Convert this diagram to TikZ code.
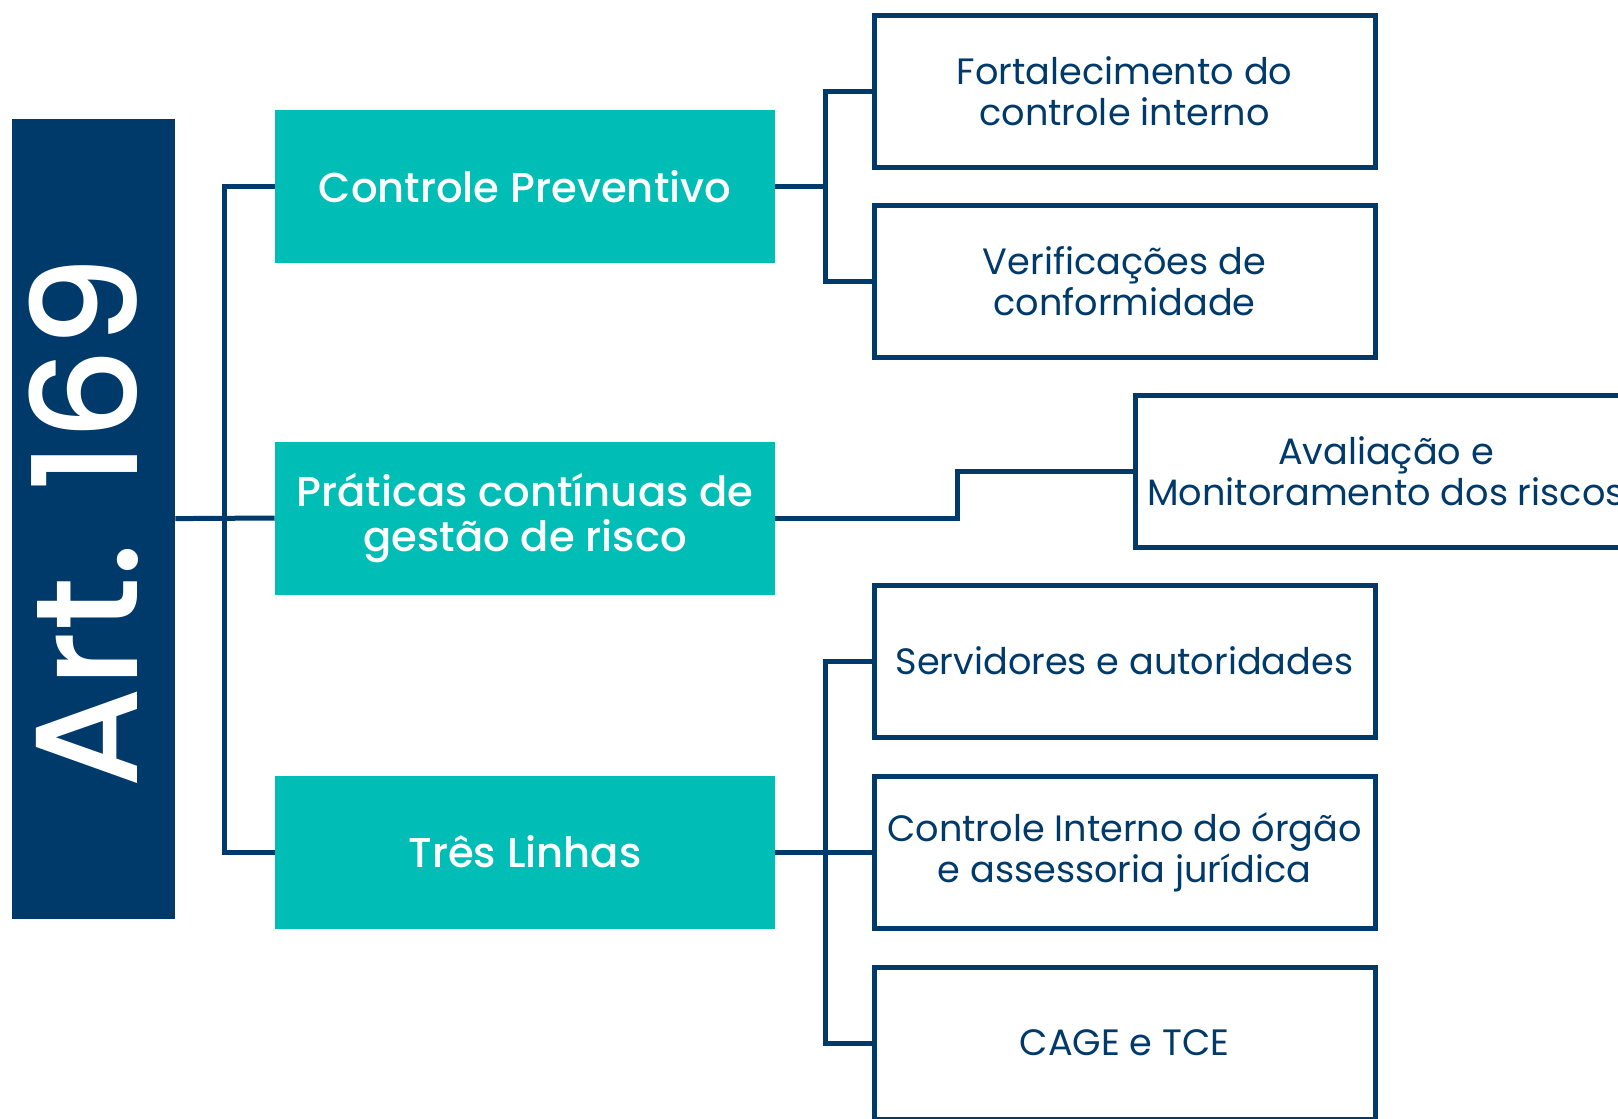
\documentclass[tikz,border=0pt]{standalone}
\usepackage{fontspec}
\setmainfont{Poppins}
\newfontfamily\medfont{Poppins Medium}
\definecolor{navy}{RGB}{0,58,107}
\definecolor{tealc}{RGB}{0,189,181}
\begin{document}
\begin{tikzpicture}[x=0.75pt,y=-0.75pt,
  tealbox/.style={fill=tealc, text=white, minimum width=375pt, minimum height=114.75pt, align=center, inner sep=0pt,
    font=\medfont\fontsize{31.3}{33.5}\selectfont},
  outbox/.style={draw=navy, line width=3.75pt, fill=white, text=navy, minimum width=375.75pt, minimum height=114pt, align=center, inner sep=0pt,
    font=\fontsize{27.5}{30.5}\selectfont},
  conn/.style={draw=navy, line width=3.75pt}]
\useasboundingbox (0,0) rectangle (1618,1118);
\clip (0,0) rectangle (1618,1118);
% main box
\node[fill=navy, minimum width=122.25pt, minimum height=600pt, inner sep=0pt] (art) at (93.5,518.6) {};
\node[rotate=90, text=white, font=\medfont\fontsize{109}{109}\selectfont, inner sep=0pt] (artlabel) at ([xshift=-7pt,yshift=-2.7pt]art.center) {Art. 169};
% level 1
\node[tealbox] (cp) at (525,186.5) {Controle Preventivo};
\node[tealbox] (pr) at (525,518) {Práticas contínuas de\\gestão de risco};
\node[tealbox] (tl) at (525,852) {Três Linhas};
% level 2
\node[outbox] (f1) at (1124.5,91) {Fortalecimento do\\controle interno};
\node[outbox] (f2) at (1124.5,281) {Verificações de\\conformidade};
\node[outbox, minimum width=376.5pt] (av) at (1386,471) {Avaliação e\\Monitoramento dos riscos};
\node[outbox] (sv) at (1124.5,661) {Servidores e autoridades};
\node[outbox] (ci) at (1124.5,852) {Controle Interno do órgão\\e assessoria jurídica};
\node[outbox] (cg) at (1124.5,1043) {CAGE e TCE};
% junction coordinates
\coordinate (tj) at (224,0);
\coordinate (rj) at (825,0);
\coordinate (pj) at (957,0);
% connectors
\draw[conn] (art.east) -- (pr.west);
\draw[conn] (cp.west) -- (cp.west -| tj) -- (tl.west -| tj) -- (tl.west);
\draw[conn] (cp.east) -- (cp.east -| rj);
\draw[conn] (f1.west) -- (f1.west -| rj) -- (f2.west -| rj) -- (f2.west);
\draw[conn] (pr.east) -- (pr.east -| pj) -- (av.west -| pj) -- (av.west);
\draw[conn] (sv.west) -- (sv.west -| rj) -- (cg.west -| rj) -- (cg.west);
\draw[conn] (tl.east) -- (ci.west);
\end{tikzpicture}
\end{document}
